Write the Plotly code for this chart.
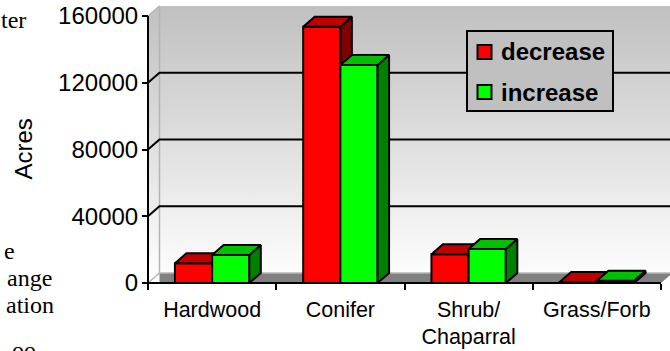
import plotly.graph_objects as go

# ---- data -------------------------------------------------------------
categories = ["Hardwood", "Conifer", "Shrub/<br>Chaparral", "Grass/Forb"]
decrease = [11800, 153600, 17200, 600]
increase = [16800, 130600, 20400, 1300]
y_ticks = [0, 40000, 80000, 120000, 160000]
grid_values = [40000, 80000, 120000]
margin_words = ["ter", "e", "ange", "ation", "oo"]

# ---- geometry (pixels of the 670x351 page) ----------------------------
PLOT_L, PLOT_R, PLOT_T, PLOT_B = 140, 670, 4, 290   # plotting area
AXIS_X_PX, AXIS_Y_PX = 148, 283                      # front value / category axes
CAT_PX = 128.25                                      # width of one category
VAL_PER_PX = 160000 / 267                            # value units per pixel
DEPTH_PX = (11.5, 10)                                # oblique depth of the 3-D box

x0 = -0.5
x_end = len(categories) - 0.5
x_lo = x0 - (AXIS_X_PX - PLOT_L) / CAT_PX
x_hi = x0 + (PLOT_R - AXIS_X_PX) / CAT_PX
y_lo = -(PLOT_B - AXIS_Y_PX) * VAL_PER_PX
y_hi = (AXIS_Y_PX - PLOT_T) * VAL_PER_PX
DX = DEPTH_PX[0] / CAT_PX
DY = DEPTH_PX[1] * VAL_PER_PX
y_top = y_ticks[-1]
BAR_W = 0.29

FONT = "Liberation Sans, Arial, sans-serif"
SERIF = "Liberation Serif, Times New Roman, serif"


def px_to_paper(px, py):
    return ((px - PLOT_L) / (PLOT_R - PLOT_L), (PLOT_B - py) / (PLOT_B - PLOT_T))


def faces(values, offset):
    """Top and right-side faces of oblique 3-D columns."""
    tx, ty, sx, sy = [], [], [], []
    for i, v in enumerate(values):
        a = i + offset
        b = a + BAR_W
        tx += [a, b, b + DX, a + DX, a, None]
        ty += [v, v, v + DY, v + DY, v, None]
        sx += [b, b + DX, b + DX, b, b, None]
        sy += [0, DY, v + DY, v, 0, None]
    return tx, ty, sx, sy


fig = go.Figure()

# ---- back wall, side wall and floor (base subplot) --------------------
fig.add_trace(go.Scatter(
    x=[x0, x0, x0 + DX, x_hi, x_hi, x0 + DX, x0],
    y=[0, y_top, y_top + DY, y_top + DY, DY, DY, 0],
    mode="none", fill="toself",
    fillgradient=dict(type="vertical", colorscale=[[0, "#ffffff"], [1, "#c0c0c0"]],
                      start=0, stop=y_top + DY),
    hoverinfo="skip", showlegend=False, xaxis="x", yaxis="y"))

fig.add_trace(go.Scatter(
    x=[x0 + DX, x_end, x_end + DX, x0 + DX, x0 + DX],
    y=[0, 0, DY, DY, 0],
    mode="none", fill="toself", fillcolor="#808080",
    hoverinfo="skip", showlegend=False, xaxis="x", yaxis="y"))

# light edges of the box
ex, ey = [], []
ex += [x0, x0 + DX, None, x0, x0 + DX, None]
ey += [0, DY, None, y_top, y_top + DY, None]
ex += [x0 + DX, x0 + DX, None, x0 + DX, x_hi, None]
ey += [DY, y_top + DY, None, DY, DY, None]
fig.add_trace(go.Scatter(x=ex, y=ey, mode="lines",
                         line=dict(color="#b4b4b4", width=1.5),
                         hoverinfo="skip", showlegend=False, xaxis="x", yaxis="y"))

# gridlines on the back wall plus their connectors on the side wall
gx, gy = [], []
for v in grid_values:
    gx += [x0, x0 + DX, x_hi, None]
    gy += [v, v + DY, v + DY, None]
fig.add_trace(go.Scatter(x=gx, y=gy, mode="lines",
                         line=dict(color="black", width=2),
                         hoverinfo="skip", showlegend=False, xaxis="x", yaxis="y"))

# ---- columns ----------------------------------------------------------
series = [
    ("decrease", decrease, -BAR_W, "#ff0000", "#c00000", "#800000", "x2", "y2"),
    ("increase", increase, 0.0, "#00ff00", "#00c000", "#008000", "x3", "y3"),
]
idx = list(range(len(categories)))
for name, vals, off, front, top, side, xa, ya in series:
    fig.add_trace(go.Bar(
        x=idx, y=vals, offset=off, width=BAR_W, name=name,
        marker=dict(color=front, line=dict(color="black", width=2)),
        showlegend=False, xaxis=xa, yaxis=ya, hoverinfo="skip"))
    tx, ty, sx, sy = faces(vals, off)
    fig.add_trace(go.Scatter(x=sx, y=sy, mode="lines", fill="toself", fillcolor=side,
                             line=dict(color="black", width=2), hoverinfo="skip",
                             showlegend=False, xaxis=xa, yaxis=ya))
    fig.add_trace(go.Scatter(x=tx, y=ty, mode="lines", fill="toself", fillcolor=top,
                             line=dict(color="black", width=2), hoverinfo="skip",
                             showlegend=False, xaxis=xa, yaxis=ya))

# front axis lines on top of everything
fig.add_trace(go.Scatter(x=[x0, x0, None, x0, x_end], y=[y_top, 0, None, 0, 0],
                         mode="lines", line=dict(color="black", width=2),
                         hoverinfo="skip", showlegend=False, xaxis="x3", yaxis="y3"))

# ---- axes -------------------------------------------------------------
ax_pos_x, _ = px_to_paper(AXIS_X_PX, 0)
_, ax_pos_y = px_to_paper(0, AXIS_Y_PX)

hidden = dict(visible=False, showgrid=False, zeroline=False)
fig.update_layout(
    width=670, height=351,
    margin=dict(l=PLOT_L, r=670 - PLOT_R, t=PLOT_T, b=351 - PLOT_B, pad=0),
    paper_bgcolor="white", plot_bgcolor="white",
    font=dict(family=FONT, color="black"),
    showlegend=False,
    xaxis=dict(range=[x_lo, x_hi], domain=[0, 1], anchor="free", position=ax_pos_y,
               tickmode="array", tickvals=idx, ticktext=categories, ticks="",
               tickfont=dict(family=FONT, size=21.5, color="black"),
               minor=dict(tickmode="array",
                          tickvals=[i - 0.5 for i in range(len(categories) + 1)],
                          ticks="outside", ticklen=6, tickwidth=2, tickcolor="black"),
               ticklabelstandoff=11,
               showgrid=False, zeroline=False, showline=False, fixedrange=True),
    yaxis=dict(range=[y_lo, y_hi], domain=[0, 1], anchor="free", position=ax_pos_x,
               tickmode="array", tickvals=y_ticks, tickformat="d",
               ticks="outside", ticklen=6, tickwidth=2, tickcolor="black",
               tickfont=dict(family=FONT, size=24, color="black"),
               ticklabelstandoff=-1,
               showgrid=False, zeroline=False, showline=False, fixedrange=True),
    xaxis2=dict(range=[x_lo, x_hi], overlaying="x", **hidden),
    yaxis2=dict(range=[y_lo, y_hi], overlaying="y", **hidden),
    xaxis3=dict(range=[x_lo, x_hi], overlaying="x", **hidden),
    yaxis3=dict(range=[y_lo, y_hi], overlaying="y", **hidden),
)

# ---- legend box ---------------------------------------------------------
LEG_L, LEG_T, LEG_R, LEG_B = 467, 31, 613, 111
lx0, ly0 = px_to_paper(LEG_L, LEG_B)
lx1, ly1 = px_to_paper(LEG_R, LEG_T)
fig.add_shape(type="rect", xref="paper", yref="paper", x0=lx0, y0=ly0, x1=lx1, y1=ly1,
              fillcolor="#c0c0c0", line=dict(color="black", width=2), layer="above")
for (name, _, _, front, *_), cy in zip(series, [52, 92]):
    sx0, sy0 = px_to_paper(477.5, cy + 7)
    sx1, sy1 = px_to_paper(491.5, cy - 7)
    fig.add_shape(type="rect", xref="paper", yref="paper", x0=sx0, y0=sy0, x1=sx1, y1=sy1,
                  fillcolor=front, line=dict(color="black", width=2), layer="above")
    tx, ty = px_to_paper(499, cy)
    fig.add_annotation(text="<b>%s</b>" % name, x=tx, y=ty, xref="paper", yref="paper",
                       showarrow=False, xanchor="left", yanchor="middle",
                       font=dict(family=FONT, size=24, color="black"))

# value-axis title
ax_t = px_to_paper(23, 149.5)
fig.add_annotation(text="Acres", x=ax_t[0], y=ax_t[1], xref="paper", yref="paper",
                   textangle=-90, showarrow=False, xanchor="center", yanchor="middle",
                   font=dict(family=FONT, size=24, color="black"))

# ends of the neighbouring text column
word_pos = [(27, 20), (16, 251), (53, 278), (55, 305), (37, 350)]
for word, (rx, cy) in zip(margin_words, word_pos):
    px, py = px_to_paper(rx, cy)
    fig.add_annotation(text=word, x=px, y=py, xref="paper", yref="paper",
                       showarrow=False, xanchor="right", yanchor="middle", borderpad=0,
                       font=dict(family=SERIF, size=24, color="black"))

fig.write_html("out.html")
